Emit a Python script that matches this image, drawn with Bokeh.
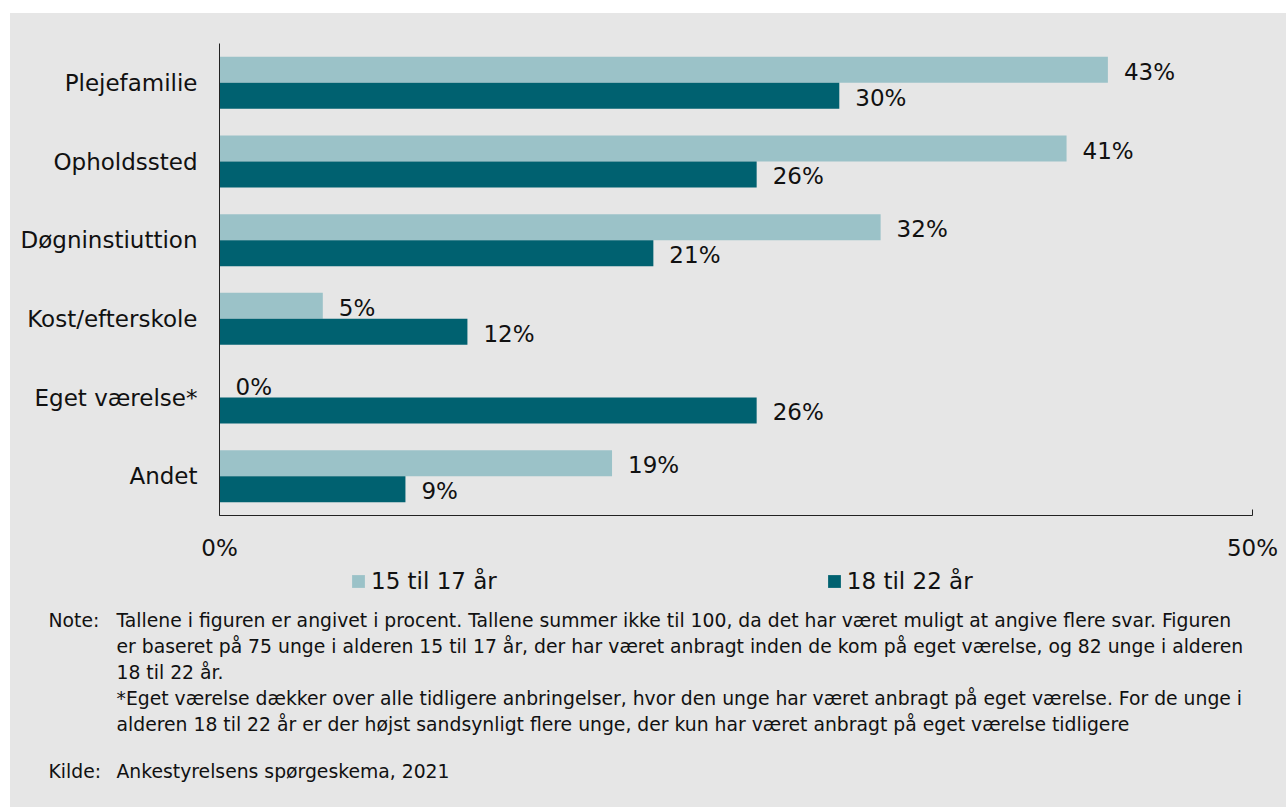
from bokeh.plotting import figure
from bokeh.layouts import column
from bokeh.models import ColumnDataSource, FactorRange, Range1d, FixedTicker, Label, Legend, LegendItem, Column
from bokeh.transform import dodge
from bokeh.core.properties import value
from bokeh.embed import file_html
from bokeh.resources import INLINE

categories = ["Plejefamilie", "Opholdssted", "Døgninstiuttion", "Kost/efterskole", "Eget værelse*", "Andet"]
age_15_17 = [43, 41, 32, 5, 0, 19]
age_18_22 = [30, 26, 21, 12, 26, 9]
series_names = ["15 til 17 år", "18 til 22 år"]
x_ticks = [0, 50]
x_tick_labels = {0: "0%", 50: "50%"}
note_label = "Note:"
note_lines = [
    "Tallene i figuren er angivet i procent. Tallene summer ikke til 100, da det har været muligt at angive flere svar. Figuren",
    "er baseret på 75 unge i alderen 15 til 17 år, der har været anbragt inden de kom på eget værelse, og 82 unge i alderen",
    "18 til 22 år.",
    "*Eget værelse dækker over alle tidligere anbringelser, hvor den unge har været anbragt på eget værelse. For de unge i",
    "alderen 18 til 22 år er der højst sandsynligt flere unge, der kun har været anbragt på eget værelse tidligere",
]
source_label = "Kilde:"
source_text = "Ankestyrelsens spørgeskema, 2021"

LIGHT = "#9bc2c8"
DARK = "#006170"
BG = "#e6e6e6"
FONT = "DejaVu Sans"
TXT = "#111111"
FS = "23px"
NOTE_FS = "18.8px"

src = ColumnDataSource(dict(
    cat=categories,
    a=age_15_17,
    b=age_18_22,
    la=[f"{v}%" for v in age_15_17],
    lb=[f"{v}%" for v in age_18_22],
))

# ---- main chart ----
p = figure(
    width=1276, height=550,
    y_range=FactorRange(factors=categories[::-1], range_padding=0),
    x_range=Range1d(0, 50),
    output_backend="svg", toolbar_location=None,
    min_border_left=209, min_border_right=34, min_border_top=30, min_border_bottom=48,
)
p.margin = (13, 0, 0, 10)
p.styles = {"background-color": BG}
p.background_fill_alpha = 0
p.border_fill_alpha = 0
p.outline_line_color = None
p.xgrid.visible = False
p.ygrid.visible = False

r1 = p.hbar(y=dodge("cat", 0.165, range=p.y_range), left=0, right="a", height=0.33,
            fill_color=LIGHT, line_color=None, source=src)
r2 = p.hbar(y=dodge("cat", -0.165, range=p.y_range), left=0, right="b", height=0.33,
            fill_color=DARK, line_color=None, source=src)

p.text(x="a", y=dodge("cat", 0.165, range=p.y_range), text="la", x_offset=16, y_offset=2,
       text_baseline="middle", text_align="left", text_font=value(FONT), text_font_size=FS,
       text_color=TXT, source=src)
p.text(x="b", y=dodge("cat", -0.165, range=p.y_range), text="lb", x_offset=16, y_offset=2,
       text_baseline="middle", text_align="left", text_font=value(FONT), text_font_size=FS,
       text_color=TXT, source=src)

xa = p.xaxis[0]
xa.ticker = FixedTicker(ticks=x_ticks)
xa.major_label_overrides = x_tick_labels
xa.major_tick_in = 6
xa.major_tick_out = 0
xa.minor_tick_line_color = None
xa.axis_line_color = "#222222"
xa.major_tick_line_color = "#222222"
xa.major_label_standoff = 19
xa.major_label_text_font = FONT
xa.major_label_text_font_size = FS
xa.major_label_text_color = TXT

ya = p.yaxis[0]
ya.major_tick_line_color = None
ya.minor_tick_line_color = None
ya.axis_line_color = "#222222"
ya.major_label_standoff = 16
ya.major_label_text_font = FONT
ya.major_label_text_font_size = FS
ya.major_label_text_color = TXT

# ---- legend + notes panel ----
QH = 244
q = figure(
    width=1276, height=QH,
    x_range=Range1d(0, 1276), y_range=Range1d(0, QH),
    output_backend="svg", toolbar_location=None,
    min_border=0, min_border_left=0, min_border_right=0, min_border_top=0, min_border_bottom=0,
)
q.margin = (0, 0, 0, 10)
q.styles = {"background-color": BG}
q.axis.visible = False
q.grid.visible = False
q.background_fill_alpha = 0
q.border_fill_alpha = 0
q.outline_line_color = None

# legend proxies (hidden) carrying the series colours
k1 = q.hbar(y="a", left=0, right="a", height=1, fill_color=LIGHT, line_color=None,
            source=src, visible=False)
k2 = q.hbar(y="b", left=0, right="b", height=1, fill_color=DARK, line_color=None,
            source=src, visible=False)

legend = Legend(
    items=[LegendItem(label=series_names[0], renderers=[k1]),
           LegendItem(label=series_names[1], renderers=[k2])],
    orientation="horizontal", location=(340, 213),
    glyph_width=16, glyph_height=16, label_standoff=5, spacing=329,
    padding=0, margin=0, border_line_color=None, background_fill_alpha=0,
    inactive_fill_alpha=0,
    label_text_font=FONT, label_text_font_size=FS, label_text_color=TXT,
)
q.add_layout(legend)

def add_label(x, y, text):
    q.add_layout(Label(x=x, y=y, text=text,
                       text_baseline="middle", text_align="left", text_font=FONT,
                       text_font_size=NOTE_FS, text_color=TXT))

add_label(38, 187, note_label)
for i, line in enumerate(note_lines):
    add_label(106, 187 - 26 * i, line)
add_label(38, 36, source_label)
add_label(106, 36, source_text)

layout = column(p, Column(children=[q], margin=0), spacing=0)
layout.margin = 0
open("out.html", "w").write(file_html(layout, INLINE))
